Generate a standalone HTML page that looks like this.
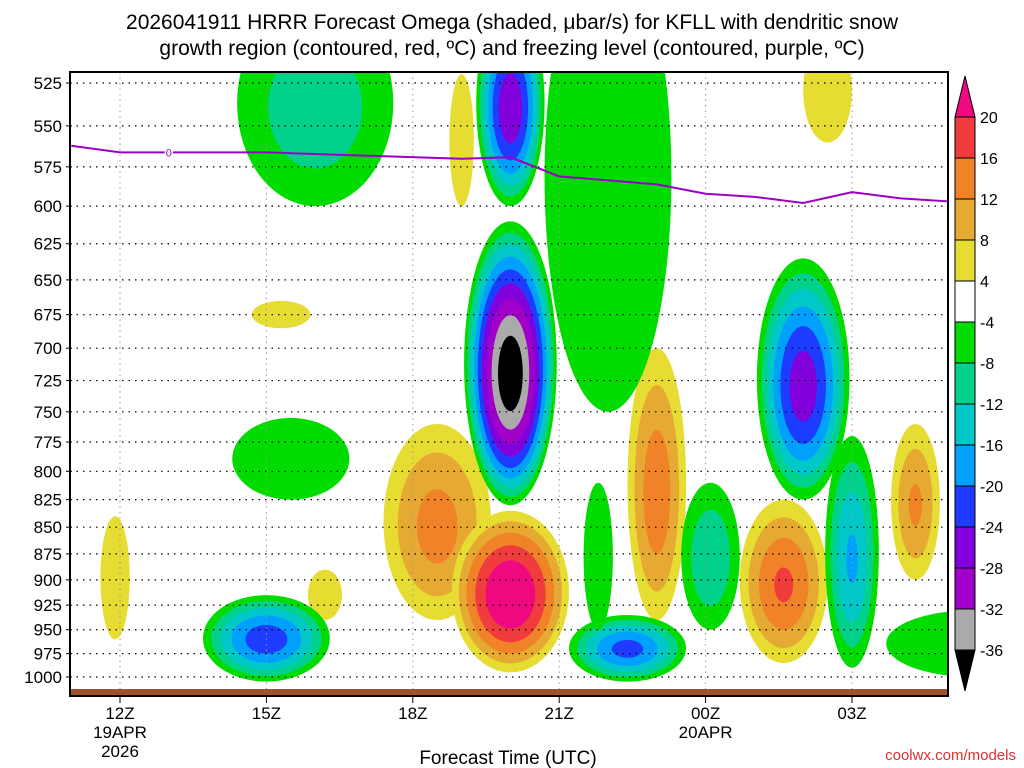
<!DOCTYPE html>
<html><head><meta charset="utf-8"><style>
body{margin:0;background:#fff;}
svg{display:block;font-family:"Liberation Sans","DejaVu Sans",sans-serif;}
</style></head><body>
<svg id="c" width="1024" height="768" viewBox="0 0 1024 768">
<defs><clipPath id="pc"><rect x="70" y="72" width="878" height="624"/></clipPath></defs>
<text x="512" y="29" font-size="21" text-anchor="middle">2026041911 HRRR Forecast Omega (shaded, μbar/s) for KFLL with dendritic snow</text>
<text x="512" y="55" font-size="21" text-anchor="middle">growth region (contoured, red, ºC) and freezing level (contoured, purple, ºC)</text>
<g id="shade" clip-path="url(#pc)"></g>
<g id="grid"></g>
<g id="frz" clip-path="url(#pc)"></g>
<rect x="70" y="689" width="878" height="6" fill="#a0522d"/>
<rect x="70" y="72" width="878" height="624" fill="none" stroke="#000" stroke-width="2"/>
<g id="axes"></g>
<g id="cbar"></g>
<text x="508" y="764" font-size="19" text-anchor="middle">Forecast Time (UTC)</text>
<text x="1016" y="760" font-size="15" text-anchor="end" fill="#e03030">coolwx.com/models</text>
</svg>
<script>
const pLevels=[525,550,575,600,625,650,675,700,725,750,775,800,825,850,875,900,925,950,975,1000];
const tTicks=[0,3,6,9,12,15];
const tLabels=["12Z","15Z","18Z","21Z","00Z","03Z"];
const cbLevels=[20,16,12,8,4,-4,-8,-12,-16,-20,-24,-28,-32,-36];
const posColors=["#e6dc32","#e6aa32","#f08228","#f03c3c","#f0087f"];
const negColors=["#00dc00","#00d28c","#00c8c8","#00a0ff","#1e3cff","#8200dc","#a000c8","#aaaaaa","#000000"];
// blobs: hour (from 12Z), pressure, half-width hours, half-height hPa, peak
const blobHour=[4.0,8.0,8.0,10.0,3.5,3.0,10.4,9.8,12.1,14.0,15.0,17.5,-0.1,3.3,4.2,7.0,6.5,8.0,11.0,13.6,16.3,14.5];
const blobPres=[540,720,540,600,790,960,970,880,880,730,880,965,900,675,915,560,850,915,820,905,830,530];
const blobHW=[1.6,0.95,0.7,1.3,1.2,1.3,1.2,0.3,0.6,0.95,0.55,1.8,0.3,0.6,0.35,0.25,1.1,1.2,0.6,0.9,0.5,0.5];
const blobHH=[60,110,60,150,35,45,35,70,70,95,110,35,60,10,25,40,90,80,120,80,70,30];
const blobPeak=[-11,-40,-28,-7,-7,-23,-22,-6,-12,-27,-17,-6,6,6,6,5,14,25,15,17,13,6];
const frzHour=[-1,0,1,3,5,7,8,9,11,12,13,14,15,16,17];
const frzPres=[562,566,566,566,568,570,569,581,586,592,594,598,591,595,597];
const NS="http://www.w3.org/2000/svg";
const X=h=>120+h*48.8;
const Y=p=>83+Math.log(p/525)/Math.log(1000/525)*594;
function mk(tag,attrs,parent){const e=document.createElementNS(NS,tag);for(const k in attrs)e.setAttribute(k,attrs[k]);parent.appendChild(e);return e;}
const shade=document.getElementById('shade');
const idx=blobPeak.map((v,i)=>i);
const drawOrder=idx.filter(i=>blobPeak[i]>0).concat(idx.filter(i=>blobPeak[i]<0));
drawOrder.forEach(i=>{
  const pk=blobPeak[i],pos=pk>0;
  const th=pos?[4,8,12,16,20]:[-4,-8,-12,-16,-20,-24,-28,-32,-36];
  const cols=pos?posColors:negColors;
  th.forEach((t,k)=>{
    if(pos? pk<=t : pk>=t) return;
    const s=Math.pow((pk-t)/(pk-th[0]),0.6);
    const cx=X(blobHour[i]);
    const yt=Y(blobPres[i]-blobHH[i]*s), yb=Y(blobPres[i]+blobHH[i]*s);
    const e=mk('ellipse',{cx:cx,cy:(yt+yb)/2,rx:blobHW[i]*48.8*s,ry:(yb-yt)/2,fill:cols[k]},shade);
    
    
  });
});
const grid=document.getElementById('grid');
pLevels.forEach(p=>{const l=mk('line',{x1:70,x2:948,y1:Y(p),y2:Y(p),stroke:'#000','stroke-width':1.2,'stroke-dasharray':'1.5 5'},grid);
});
tTicks.forEach(h=>{const l=mk('line',{x1:X(h),x2:X(h),y1:72,y2:696,stroke:'#999','stroke-width':1,'stroke-dasharray':'1.5 4'},grid);
});
const frz=document.getElementById('frz');
const pl=mk('polyline',{points:frzHour.map((h,i)=>X(h)+','+Y(frzPres[i])).join(' '),fill:'none',stroke:'#9a00c8','stroke-width':2},frz);

const zl=mk('text',{x:X(1),y:Y(566)+4,'font-size':11,fill:'#9a00c8','text-anchor':'middle',stroke:'#fff','stroke-width':3,'paint-order':'stroke'},frz);zl.textContent='0';

const axes=document.getElementById('axes');
pLevels.forEach(p=>{const t=mk('text',{x:62,y:Y(p)+6,'font-size':17,'text-anchor':'end'},axes);t.textContent=p;

mk('line',{x1:66,x2:72,y1:Y(p),y2:Y(p),stroke:'#000'},axes);});
tTicks.forEach((h,i)=>{mk('line',{x1:X(h),x2:X(h),y1:696,y2:703,stroke:'#000'},axes);
const t=mk('text',{x:X(h),y:719,'font-size':17,'text-anchor':'middle'},axes);t.textContent=tLabels[i];
});
[[0,738,'19APR'],[0,757,'2026'],[12,738,'20APR']].forEach(a=>{const t=mk('text',{x:X(a[0]),y:a[1],'font-size':17,'text-anchor':'middle'},axes);t.textContent=a[2];
});
const cb=document.getElementById('cbar');
const CY=v=>{const i=cbLevels.indexOf(v);return 117+i*41;};
const cbCols=["#f03c3c","#f08228","#e6aa32","#e6dc32","#ffffff","#00dc00","#00d28c","#00c8c8","#00a0ff","#1e3cff","#8200dc","#a000c8","#aaaaaa"];
mk('polygon',{points:'955,117 975,117 965,76',fill:'#f0087f',stroke:'#000'},cb);
for(let i=0;i<cbLevels.length-1;i++){const r=mk('rect',{x:955,y:CY(cbLevels[i]),width:20,height:41,fill:cbCols[i],stroke:'#000','stroke-width':1},cb);
}
mk('polygon',{points:'955,650 975,650 965,691',fill:'#000',stroke:'#000'},cb);
cbLevels.forEach(v=>{const t=mk('text',{x:980,y:CY(v)+6,'font-size':16},cb);t.textContent=v;
});
</script>
</body></html>
